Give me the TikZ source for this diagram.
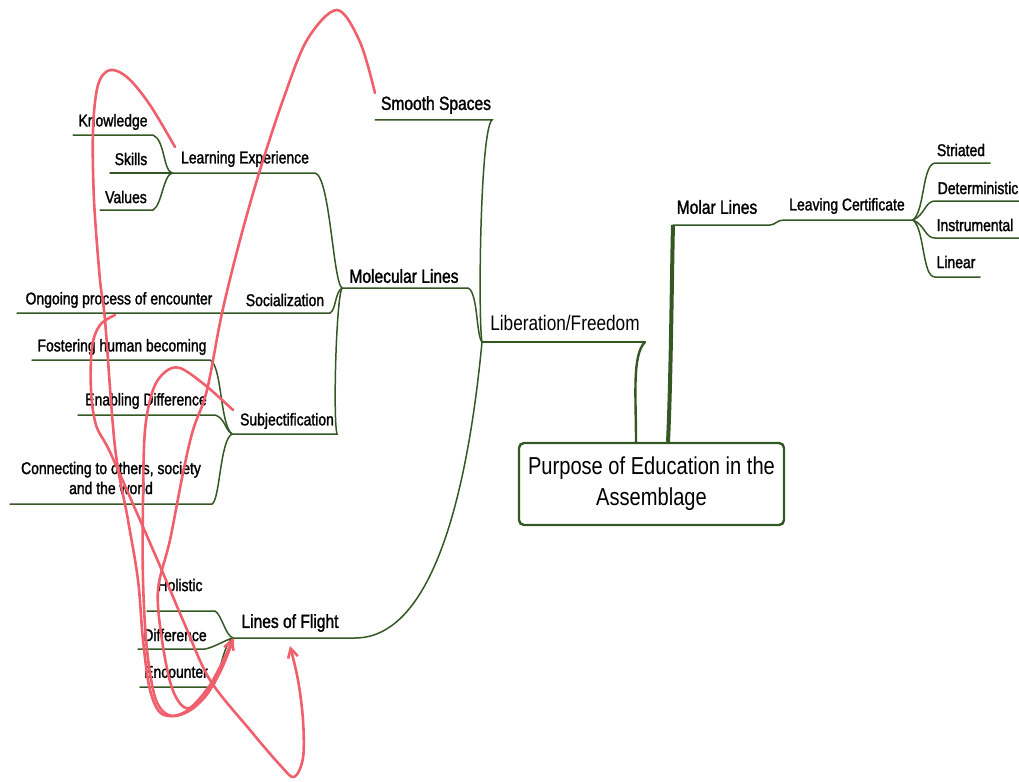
\documentclass[tikz,border=0pt]{standalone}
\usepackage{fontspec}
\usetikzlibrary{arrows.meta}
\newfontfamily\nar{Liberation Sans}[FakeStretch=0.82]
\newfontfamily\narb{Liberation Sans}[FakeStretch=0.82,FakeBold=1.5]
\definecolor{mapgreen}{RGB}{52,88,36}
\definecolor{scribble}{RGB}{240,96,108}
\tikzset{
  leaf/.style={inner sep=0pt, font=\narb\fontsize{17}{20}\selectfont},
  mid/.style={inner sep=0pt, font=\narb\fontsize{19}{22}\selectfont},
  big/.style={inner sep=0pt, font=\nar\fontsize{21}{24}\selectfont},
  branch/.style={draw=mapgreen, line width=1.5pt, line cap=round},
  redline/.style={draw=scribble, line width=2.6pt, line cap=round, line join=round},
}
\begin{document}
\begin{tikzpicture}[x=1pt,y=-1pt]
\useasboundingbox (0,0) rectangle (1019,781);

% ---- text nodes
\node[mid]  (smooth) at (436,105) {Smooth Spaces};
\node[leaf] (learn) at (245,159) {Learning Experience};
\node[leaf] (know) at (113,122) {Knowledge};
\node[leaf] (skills) at (131,159) {Skills};
\node[leaf] (values) at (126,197) {Values};
\node[mid]  (molec) at (404,276) {Molecular Lines};
\node[leaf] (social) at (285,300) {Socialization};
\node[leaf] (ongoing) at (119,300) {Ongoing process of encounter};
\node[leaf] (foster) at (122,347) {Fostering human becoming};
\node[leaf] (enable) at (146,401) {Enabling Difference};
\node[leaf] (subj) at (287,421) {Subjectification};
\node[leaf, align=center] (connect) at (111,478) {Connecting to others, society\\and the world};
\node[leaf] (holistic) at (180,585) {Holistic};
\node[leaf] (diff) at (175,635) {Difference};
\node[leaf] (enc) at (176,672) {Encounter};
\node[mid]  (flight) at (290,623) {Lines of Flight};
\node[big]  (liber) at (565,323) {Liberation/Freedom};
\node[mid]  (molar) at (717,207) {Molar Lines};
\node[leaf] (leaving) at (847,206) {Leaving Certificate};
\node[leaf] (striated) at (961,150) {Striated};
\node[leaf] (determ) at (978,188) {Deterministic};
\node[leaf] (instr) at (975,225) {Instrumental};
\node[leaf] (linear) at (956,262) {Linear};
\node[draw=mapgreen, line width=2.4pt, rounded corners=5pt, minimum width=265pt, minimum height=82pt,
      align=center, font=\nar\fontsize{24.5}{31}\selectfont, inner sep=0pt] (root) at (651.5,484) {Purpose of Education in the\\Assemblage};

% ---- branch points
\coordinate (jL) at (482,342);
\coordinate (jM) at (342,288);
\coordinate (jE) at (172,173);
\coordinate (jS) at (232,434);
\coordinate (jF) at (233,638);
\coordinate (jC) at (913,220);

% ---- main branches
\draw[branch, line width=2.4pt] (root.north -| 636,0) .. controls (636,395) and (632,355) .. (645,342);
\draw[branch] (645,342) -- (jL);
\draw[branch] (375,120) -- (492,120) .. controls (480,130) and (478,320) .. (jL);
\draw[branch] (jM) -- (468,288) .. controls (478,292) and (476,335) .. (jL);
\draw[branch] (jF) -- (355,638) .. controls (425,638) and (465,520) .. (jL);

\draw[mapgreen, line width=4pt] (root.north -| 668,0) .. controls (671,380) and (672,260) .. (673,225);
\draw[branch] (673,225) -- (770,225) .. controls (775,225) and (777,220) .. (784,220) -- (jC);

% molecular sub-branches
\draw[branch] (jE) -- (315,173) .. controls (330,176) and (333,282) .. (jM);
\draw[branch] (17,313) -- (330,313) .. controls (336,310) and (335,292) .. (jM);
\draw[branch] (jS) -- (337,434) .. controls (333,420) and (336,300) .. (jM);

% learning experience leaves
\draw[branch] (73,135) -- (153,135) .. controls (165,140) and (163,170) .. (jE);
\draw[branch] (110,173) -- (jE);
\draw[branch] (100,210) -- (153,210) .. controls (162,205) and (163,176) .. (jE);

% subjectification leaves
\draw[branch] (32,360) -- (210,360) .. controls (222,365) and (220,425) .. (jS);
\draw[branch] (78,415) -- (215,415) .. controls (225,418) and (225,430) .. (jS);
\draw[branch] (10,504) -- (212,504) .. controls (220,500) and (220,440) .. (jS);

% lines of flight leaves
\draw[branch] (147,611) -- (215,611) .. controls (222,615) and (225,635) .. (jF);
\draw[branch] (138,649) -- (205,649) .. controls (215,647) and (225,640) .. (jF);
\draw[branch] (140,687) -- (212,687) .. controls (220,680) and (222,645) .. (jF);

% leaving certificate leaves
\draw[branch] (jC) .. controls (925,210) and (922,165) .. (935,163) -- (990,163);
\draw[branch] (jC) .. controls (925,215) and (925,201) .. (935,201) -- (1019,201);
\draw[branch] (jC) .. controls (925,225) and (925,238) .. (935,238) -- (1019,238);
\draw[branch] (jC) .. controls (925,230) and (922,277) .. (935,277) -- (980,277);

% ---- red scribble
\draw[redline] plot[smooth, tension=0.55] coordinates {(375,93) (360,42) (337,10) (307,40) (283,100) (260,170) (240,240) (222,313) (207,390) (193,430) (183,473) (170,540) (158,590) (162,640) (172,688) (186,708) (205,697) (222,667) (233,640)};
\draw[redline] plot[smooth, tension=0.55] coordinates {(175,147) (150,105) (128,78) (110,70) (98,85) (93,130) (94,200) (100,280) (105,320) (115,447) (128,520) (138,580) (143,640) (150,690) (162,714) (185,712) (210,685) (233,640)};
\draw[redline] plot[smooth, tension=0.55] coordinates {(233,410) (205,385) (180,368) (165,372) (153,390) (145,430) (143,500) (143,580) (147,650) (156,700) (172,716) (196,706) (218,676) (233,640)};
\draw[redline, -{Straight Barb[length=9pt,width=10pt]}] plot[smooth, tension=0.55] coordinates {(115,315) (100,325) (92,347) (91,390) (96,425) (110,452) (140,520) (163,573) (185,625) (210,680) (250,730) (280,765) (294,777) (303,758) (303,720) (298,680) (290,646)};
\draw[redline, -{Straight Barb[length=9pt,width=10pt]}] (222,667) -- (jF);
\end{tikzpicture}
\end{document}
